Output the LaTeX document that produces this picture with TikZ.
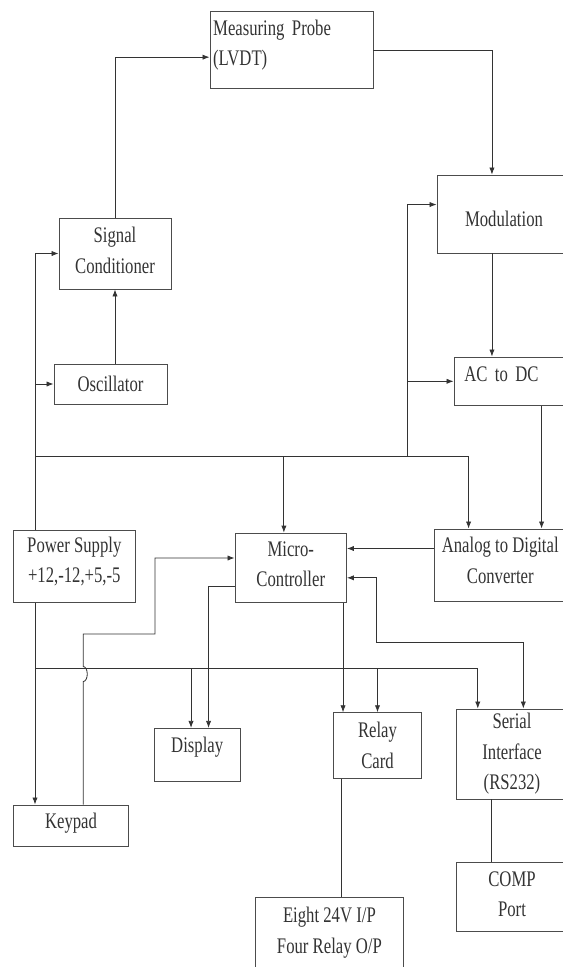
\documentclass[tikz,border=0pt]{standalone}
\usepackage{fontspec}
\setmainfont{Liberation Serif}[FakeStretch=0.75]
\usetikzlibrary{arrows.meta}

\begin{document}
\begin{tikzpicture}[x=0.03cm, y=-0.03cm, color=black!80, line width=0.7pt,
  >={Latex[length=6pt,width=4.5pt]},
  blk/.style={draw=black!70, inner sep=2pt, align=center, font=\fontsize{19}{26}\selectfont},
  sz/.style 2 args={minimum width=#1*0.03cm, minimum height=#2*0.03cm}]
\path[use as bounding box, clip] (0,0) rectangle (563,967);

%Bloecke
\node[blk, sz={163}{76.6}, text width=4.7cm, align=left, text depth=38pt] (probe) at (291.5,50) {Measuring Probe\\(LVDT)};
\node[blk, sz={134}{78}, text height=21.5pt] (modul) at (504,214) {Modulation};
\node[blk, sz={112}{71}, text depth=5.8pt] (sigc) at (115,253.5) {Signal\\Conditioner};
\node[blk, sz={113}{40}] (osc) at (110.5,384) {Oscillator};
\node[blk, sz={114}{48.7}, text width=2.8cm, align=left, text depth=11.4pt] (acdc) at (511,381.3) {AC to DC};
\node[blk, sz={121.4}{72.7}, text depth=10.7pt] (power) at (74.3,566.3) {Power Supply\\+12,-12,+5,-5};
\node[blk, sz={111.5}{69.7}, text depth=6.4pt] (micro) at (290.75,567.9) {Micro-\\Controller};
\node[blk, sz={131.5}{72}, text depth=8.4pt] (adc) at (500.25,565) {Analog to Digital\\Converter};
\node[blk, sz={115}{41.7}, text depth=9pt] (keypad) at (71,825.8) {Keypad};
\node[blk, sz={85.5}{52.7}, text depth=17.7pt] (display) at (197.2,754.7) {Display};
\node[blk, sz={88.7}{65.6}] (relay) at (377.5,745.5) {Relay\\Card};
\node[blk, sz={112}{90}] (serial) at (512,754) {Serial\\Interface\\(RS232)};
\node[blk, sz={112}{69}, text depth=5pt] (comp) at (512,897.2) {COMP\\Port};
\node[blk, sz={147.3}{77.3}, text depth=10pt] (eight) at (329.4,936.35) {Eight 24V I/P\\Four Relay O/P};

\coordinate (lt) at (35,0);
\coordinate (rt) at (407,0);
\coordinate (b1) at (0,456);
\coordinate (b2) at (0,668);
\coordinate (sj) at (376,642);
\coordinate (kj) at (155,634);

\draw[->] (sigc.north) |- (probe.185);
\draw[->] (probe.east) -| (modul.107);
\draw[->] (modul.-107) -- (modul.-107 |- acdc.north);
\draw[->] (acdc.-39) -- (acdc.-39 |- adc.north);
\draw[->] (lt |- power.north) |- (sigc.west);
\draw[->] (lt |- osc.west) -- (osc.west);
\draw[->] (osc.north -| sigc.south) -- (sigc.south);
\draw[->] (lt |- b1) -| (adc.131);
\draw[->] (micro.101 |- b1) -- (micro.101);
\draw[->] (rt |- b1) |- (modul.172);
\draw[->] (rt |- acdc.west) -- (acdc.west);
\draw[->] (adc.166) -- (adc.166 -| micro.east);
\draw[<->] (micro.-10) -| (sj) -| (serial.76);
\draw[->] (micro.198) -| (display.67);
\draw[->] (keypad.60) -- ++(0,-123) arc[start angle=90, end angle=-90, x radius=4, y radius=7.5] |- (kj) |- (micro.170);
\draw[->] (lt |- power.south) -- (lt |- keypad.north);
\draw[->] (lt |- b2) -| (serial.127);
\draw[->] (display.103 |- b2) -- (display.103);
\draw[->] (relay.north |- b2) -- (relay.north);
\draw[->] (micro.-34) -- (micro.-34 |- relay.north);
\draw (relay.-137) -- (relay.-137 |- eight.north);
\draw (serial.-114) -- (serial.-114 |- comp.north);
\end{tikzpicture}
\end{document}
